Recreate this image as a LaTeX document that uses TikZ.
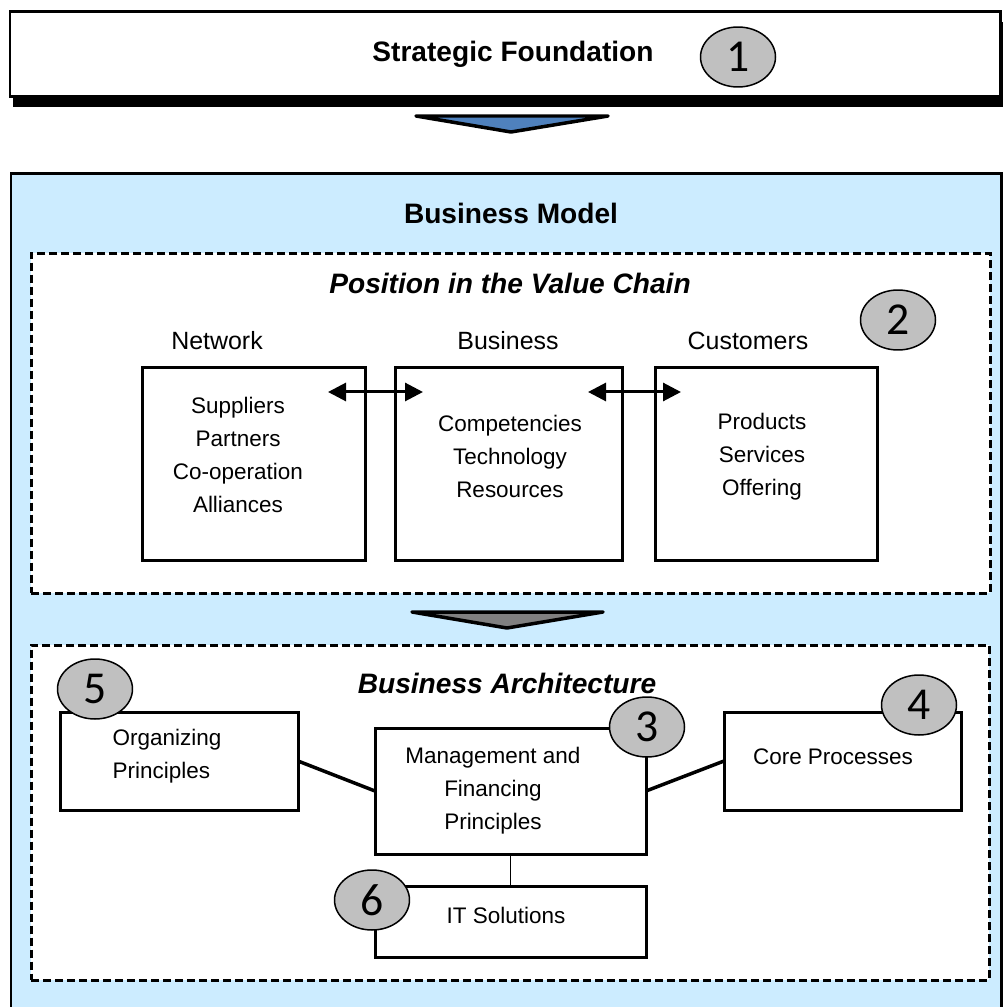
\documentclass[tikz,border=0pt]{standalone}
\usepackage{fontspec}
\setmainfont{Liberation Sans}
\newfontfamily\numfont{Carlito}
\usetikzlibrary{fit,shapes.geometric,arrows.meta}

\definecolor{modelblue}{HTML}{CCECFF}
\definecolor{arrowblue}{HTML}{4F81BD}
\definecolor{numgray}{HTML}{C0C0C0}

\begin{document}
\begin{tikzpicture}[x=0.02cm, y=-0.02cm,
        box/.style={draw, line width=0.06cm, inner sep=0pt, outer sep=0pt},
        dashbox/.style={box, fill=white, dash pattern=on 0.16cm off 0.08cm},
        heading/.style={font=\fontsize{16}{19}\selectfont\bfseries},
        subheading/.style={font=\fontsize{16}{19}\selectfont\bfseries\itshape},
        colhead/.style={font=\fontsize{14.2}{17}\selectfont},
        body/.style={font=\fontsize{12.8}{18.8}\selectfont, align=center},
        num/.style={ellipse, draw, fill=numgray, line width=0.03cm, minimum width=1.5cm,
                    minimum height=1.2cm, inner sep=0pt, font=\numfont\fontsize{26}{26}\selectfont},
        link/.style={line width=0.07cm},
        twoway/.style={line width=0.06cm, {Triangle[length=0.36cm,width=0.36cm]}-{Triangle[length=0.36cm,width=0.36cm]}},
        flow/.style={draw, line width=0.07cm, line join=round}]
        \clip (0,0) rectangle (1003,1007);

        % strategic foundation with its shadow
        \fill (13,22) rectangle (1006,107);
        \node[box, fill=white, fit={(10,12) (1000,97)}, label={[heading, xshift=0.16cm]center:Strategic Foundation}] (strategy) {};
        \draw[flow, fill=arrowblue] (416,116) -- (608,116) -- (511,132) -- cycle;

        % business model
        \node[box, fill=modelblue, fit={(11,173) (1001,1040)}] (model) {};
        \node[heading] (modeltitle) at (511,213) {Business Model};

        % value chain
        \node[dashbox, fit={(31,253) (990,593)}] (chain) {};
        \node[subheading] (chaintitle) at (510,283) {Position in the Value Chain};

        \node[colhead] (nethead)  at (217,341) {Network};
        \node[colhead] (bizhead)  at (508,341) {Business};
        \node[colhead] (custhead) at (748,341) {Customers};

        \node[box, fill=white, fit={(142,367) (365,560)}, label={[body, xshift=-0.31cm, yshift=0.17cm]center:Suppliers\\Partners\\Co-operation\\Alliances}] (network) {};
        \node[box, fill=white, fit={(395,367) (622,560)}, label={[body, xshift=0.03cm, yshift=0.15cm]center:Competencies\\Technology\\Resources}] (business) {};
        \node[box, fill=white, fit={(655,367) (877,560)}, label={[body, xshift=-0.08cm, yshift=0.13cm]center:Products\\Services\\Offering}] (customers) {};

        \draw[twoway] ([xshift=-0.74cm, yshift=-0.5cm]network.north east) -- ([xshift=0.56cm, yshift=-0.5cm]business.north west);
        \draw[twoway] ([xshift=-0.68cm, yshift=-0.5cm]business.north east) -- ([xshift=0.52cm, yshift=-0.5cm]customers.north west);

        \draw[flow, fill=gray] (412,612) -- (603,612) -- (507,628) -- cycle;

        % business architecture
        \node[dashbox, fit={(31,645) (989,980)}] (arch) {};
        \node[subheading] (archtitle) at (507,683) {Business Architecture};

        \node[box, fill=white, fit={(60,712) (298,810)}, label={[body, align=left, xshift=-0.24cm, yshift=0.1cm]center:Organizing\\Principles}] (organizing) {};
        \node[box, fill=white, fit={(375,728) (646,854)}, label={[body, xshift=-0.35cm]center:Management and\\Financing\\Principles}] (management) {};
        \node[box, fill=white, fit={(724,712) (961,810)}, label={[body, xshift=-0.19cm, yshift=0.08cm]center:Core Processes}] (core) {};
        \node[box, fill=white, fit={(375,886) (646,957)}, label={[body, xshift=-0.09cm, yshift=0.13cm]center:IT Solutions}] (it) {};

        \draw[link] (organizing.east) -- (management.west);
        \draw[link] (management.east) -- (core.west);
        \draw[line width=0.03cm] (management.south) -- (it.north);

        % numbered markers
        \node[num] (n1) at (738,57) {1};
        \node[num] (n2) at (898,320) {2};
        \node[num] (n3) at (647,727) {3};
        \node[num] (n4) at (919,705) {4};
        \node[num] (n5) at (95,689) {5};
        \node[num] (n6) at (372,900) {6};
    \end{tikzpicture}
\end{document}
